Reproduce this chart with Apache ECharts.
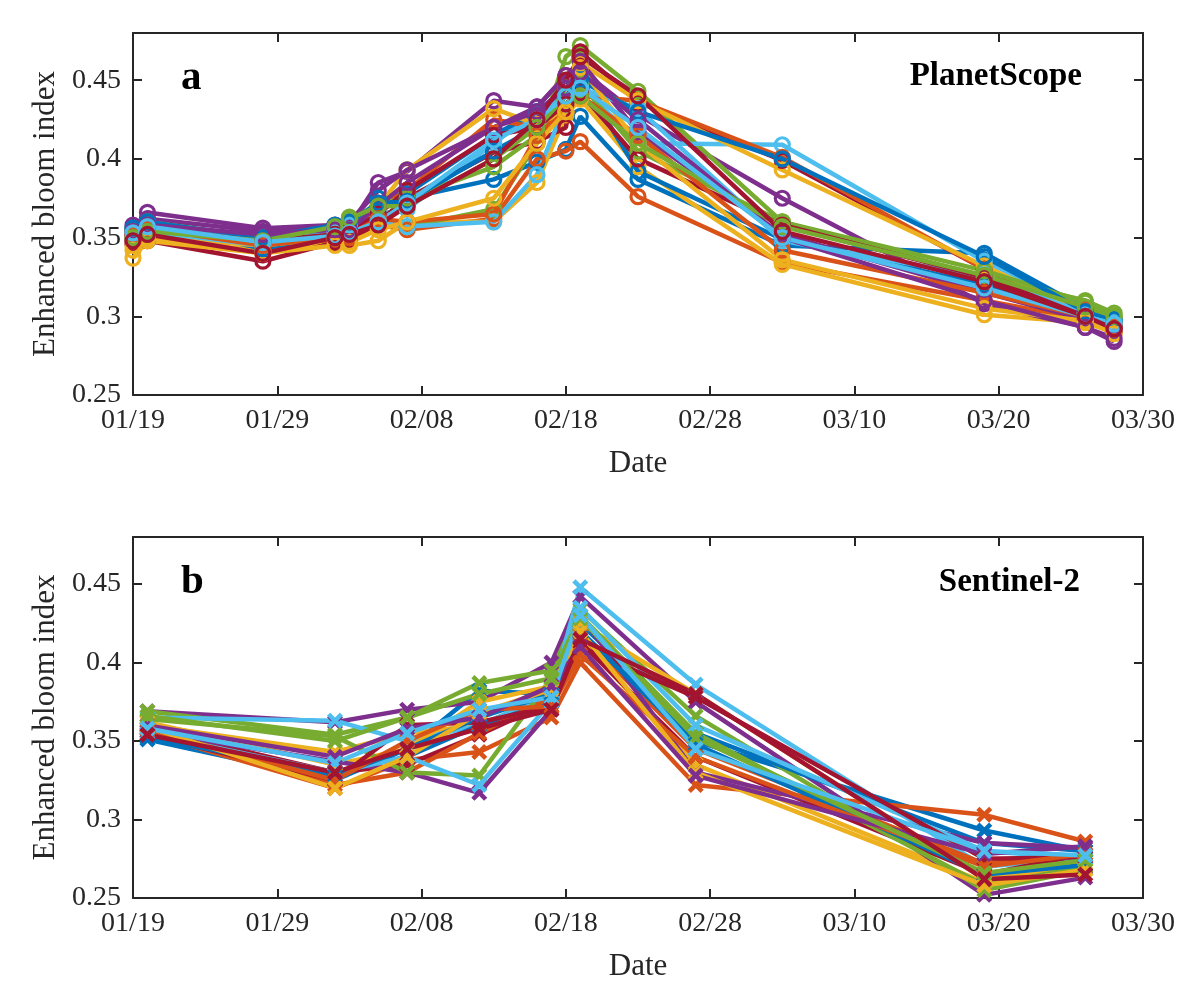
<!DOCTYPE html>
<html>
<head>
<meta charset="utf-8">
<script src="https://cdn.jsdelivr.net/npm/echarts@6/dist/echarts.min.js"></script>
<style>
html,body{margin:0;padding:0;background:#fff;}
#chart{width:1200px;height:999px;}
</style>
</head>
<body>
<div id="chart"></div>
<script>
// ---------- DATA ----------
const xTickLabels = ['01/19','01/29','02/08','02/18','02/28','03/10','03/20','03/30'];
const yTickLabels = [0.25, 0.3, 0.35, 0.4, 0.45];

const datesPS = ['01/19','01/20','01/28','02/02','02/03','02/05','02/07','02/13','02/16','02/18','02/19','02/23','03/05','03/19','03/26','03/28'];
const datesS2 = ['01/20','02/02','02/07','02/12','02/17','02/19','02/27','03/19','03/26'];

const ps01 = [0.352,0.356,0.345,0.352,0.356,0.370,0.375,0.387,0.398,0.406,0.427,0.387,0.345,0.340,0.305,0.296];
const ps02 = [0.350,0.352,0.340,0.348,0.350,0.358,0.355,0.362,0.400,0.405,0.411,0.376,0.334,0.310,0.298,0.292];
const ps03 = [0.337,0.348,0.342,0.346,0.345,0.348,0.360,0.360,0.385,0.428,0.438,0.395,0.333,0.301,0.296,0.290];
const ps04 = [0.356,0.366,0.356,0.358,0.357,0.385,0.392,0.437,0.433,0.453,0.457,0.428,0.375,0.308,0.293,0.284];
const ps05 = [0.348,0.352,0.346,0.355,0.363,0.360,0.357,0.368,0.410,0.465,0.472,0.443,0.360,0.325,0.310,0.302];
const ps06 = [0.355,0.358,0.350,0.353,0.355,0.365,0.368,0.410,0.430,0.440,0.447,0.410,0.409,0.335,0.305,0.297];
const ps07 = [0.346,0.348,0.335,0.347,0.348,0.360,0.375,0.404,0.411,0.420,0.468,0.436,0.399,0.330,0.302,0.294];
const ps08 = [0.354,0.358,0.343,0.350,0.352,0.375,0.378,0.415,0.430,0.445,0.452,0.392,0.349,0.320,0.302,0.295];
const ps09 = [0.353,0.357,0.347,0.352,0.350,0.370,0.380,0.425,0.420,0.430,0.440,0.437,0.401,0.330,0.305,0.296];
const ps10 = [0.345,0.350,0.345,0.350,0.352,0.370,0.393,0.432,0.422,0.430,0.461,0.437,0.393,0.332,0.302,0.292];
const ps11 = [0.358,0.362,0.354,0.356,0.360,0.380,0.393,0.420,0.433,0.453,0.462,0.417,0.352,0.315,0.298,0.290];
const ps12 = [0.355,0.360,0.350,0.357,0.360,0.372,0.375,0.395,0.415,0.445,0.448,0.405,0.360,0.329,0.309,0.300];
const ps13 = [0.350,0.354,0.345,0.356,0.358,0.360,0.357,0.360,0.390,0.435,0.445,0.432,0.348,0.325,0.302,0.297];
const ps14 = [0.352,0.356,0.348,0.352,0.354,0.365,0.380,0.415,0.420,0.435,0.442,0.400,0.358,0.325,0.300,0.293];
const ps15 = [0.356,0.360,0.350,0.358,0.360,0.372,0.373,0.405,0.420,0.440,0.450,0.430,0.400,0.338,0.303,0.298];
const ps16 = [0.352,0.356,0.345,0.350,0.352,0.362,0.360,0.365,0.415,0.430,0.440,0.415,0.342,0.315,0.300,0.294];
const ps17 = [0.342,0.348,0.340,0.345,0.347,0.355,0.360,0.375,0.410,0.430,0.458,0.410,0.336,0.305,0.297,0.289];
const ps18 = [0.354,0.358,0.352,0.355,0.355,0.370,0.385,0.420,0.430,0.445,0.455,0.425,0.350,0.310,0.293,0.286];
const ps19 = [0.350,0.354,0.348,0.357,0.362,0.370,0.370,0.400,0.420,0.440,0.440,0.410,0.357,0.326,0.306,0.300];
const ps20 = [0.353,0.357,0.347,0.351,0.353,0.360,0.372,0.412,0.425,0.440,0.445,0.420,0.350,0.318,0.300,0.295];
const ps21 = [0.348,0.352,0.340,0.350,0.352,0.358,0.370,0.400,0.425,0.450,0.465,0.440,0.354,0.322,0.300,0.292];

const s201 = [0.351,0.325,0.345,0.382,0.380,0.420,0.350,0.293,0.280];
const s202 = [0.355,0.320,0.338,0.343,0.365,0.400,0.322,0.303,0.286];
const s203 = [0.360,0.343,0.355,0.360,0.380,0.415,0.335,0.260,0.270];
const s204 = [0.369,0.362,0.370,0.375,0.400,0.442,0.375,0.252,0.263];
const s205 = [0.369,0.354,0.365,0.387,0.395,0.434,0.366,0.255,0.268];
const s206 = [0.365,0.363,0.350,0.360,0.380,0.448,0.386,0.270,0.275];
const s207 = [0.358,0.330,0.335,0.354,0.375,0.413,0.340,0.265,0.278];
const s208 = [0.352,0.330,0.340,0.360,0.375,0.425,0.355,0.285,0.280];
const s209 = [0.356,0.322,0.330,0.355,0.378,0.418,0.345,0.272,0.277];
const s210 = [0.362,0.335,0.345,0.375,0.385,0.425,0.380,0.262,0.272];
const s211 = [0.356,0.337,0.330,0.317,0.370,0.430,0.330,0.285,0.282];
const s212 = [0.364,0.353,0.330,0.328,0.390,0.430,0.355,0.258,0.270];
const s213 = [0.355,0.330,0.340,0.322,0.375,0.435,0.360,0.280,0.275];
const s214 = [0.354,0.325,0.360,0.362,0.372,0.410,0.378,0.275,0.276];
const s215 = [0.353,0.328,0.345,0.365,0.380,0.420,0.348,0.265,0.271];
const s216 = [0.357,0.325,0.350,0.370,0.372,0.405,0.340,0.270,0.278];
const s217 = [0.359,0.320,0.340,0.368,0.383,0.420,0.330,0.258,0.268];
const s218 = [0.360,0.340,0.358,0.365,0.385,0.410,0.328,0.278,0.283];
const s219 = [0.366,0.350,0.365,0.380,0.390,0.428,0.352,0.266,0.274];
const s220 = [0.358,0.336,0.355,0.370,0.378,0.430,0.345,0.280,0.277];
const s221 = [0.354,0.330,0.345,0.358,0.370,0.415,0.380,0.262,0.265];

const planetScope = [ps01,ps02,ps03,ps04,ps05,ps06,ps07,ps08,ps09,ps10,ps11,ps12,ps13,ps14,ps15,ps16,ps17,ps18,ps19,ps20,ps21];
const sentinel2 = [s201,s202,s203,s204,s205,s206,s207,s208,s209,s210,s211,s212,s213,s214,s215,s216,s217,s218,s219,s220,s221];

// ---------- STYLE ----------
const palette = ['#0072BD','#D95319','#EDB120','#7E2F8E','#77AC30','#4DBEEE','#A2142F'];
const axisColor = '#262626';
const serif = '"Liberation Serif","Times New Roman",serif';
const xMarker = 'path://M2,0 L5,3 L8,0 L10,2 L7,5 L10,8 L8,10 L5,7 L2,10 L0,8 L3,5 L0,2 Z';

function dayOf(s){
  const [m,d] = s.split('/').map(Number);
  return Math.round((Date.UTC(2021,m-1,d) - Date.UTC(2021,0,19)) / 86400000);
}

const chart = echarts.init(document.getElementById('chart'), null, {renderer:'canvas'});

function xAx(grid, pos){
  const main = pos === 'bottom';
  return {
    gridIndex: grid, type:'value', position: pos, min:0, max:70, interval:10,
    axisLine:{show:true, onZero:false, lineStyle:{color:axisColor, width:2}},
    axisTick:{show:true, inside:true, length:9, lineStyle:{color:axisColor, width:2}},
    axisLabel:{show:main, fontFamily:serif, fontSize:28, color:axisColor, margin:12,
      showMinLabel:true, showMaxLabel:true, hideOverlap:false,
      formatter: v => xTickLabels[Math.round(v/10)] || ''},
    splitLine:{show:false},
    name: main ? 'Date' : '', nameLocation:'middle', nameGap:53,
    nameTextStyle:{fontFamily:serif, fontSize:31, color:axisColor}
  };
}
function yAx(grid, pos){
  const main = pos === 'left';
  return {
    gridIndex: grid, type:'value', position: pos, min:0.25, max:0.48, interval:0.05,
    axisLine:{show:true, onZero:false, lineStyle:{color:axisColor, width:2}},
    axisTick:{show:true, inside:true, length:9, lineStyle:{color:axisColor, width:2}},
    axisLabel:{show:main, fontFamily:serif, fontSize:28, color:axisColor, margin:12,
      showMinLabel:true, showMaxLabel:true,
      formatter: v => { const t = yTickLabels.find(t => Math.abs(t - v) < 1e-9); return t === undefined ? '' : String(t); }},
    splitLine:{show:false},
    name: main ? 'Enhanced bloom index' : '', nameLocation:'middle', nameGap:72,
    nameTextStyle:{fontFamily:serif, fontSize:31, color:axisColor}
  };
}

const series = [];
planetScope.forEach((vals, i) => {
  const c = palette[i % 7];
  series.push({
    type:'line', xAxisIndex:0, yAxisIndex:0,
    data: datesPS.map((d, k) => [dayOf(d), vals[k]]),
    symbol:'circle', symbolSize:14, showAllSymbol:true,
    lineStyle:{color:c, width:4.5},
    itemStyle:{color:'rgba(255,255,255,0)', borderColor:c, borderWidth:3.2},
    emphasis:{disabled:true}, animation:false
  });
});
sentinel2.forEach((vals, i) => {
  const c = palette[i % 7];
  series.push({
    type:'line', xAxisIndex:2, yAxisIndex:2,
    data: datesS2.map((d, k) => [dayOf(d), vals[k]]),
    symbol: xMarker, symbolSize:16, showAllSymbol:true,
    lineStyle:{color:c, width:4.5},
    itemStyle:{color:c},
    emphasis:{disabled:true}, animation:false
  });
});

chart.setOption({
  animation:false,
  backgroundColor:'#ffffff',
  grid:[
    {left:133, top:33, width:1010, height:362, containLabel:false},
    {left:133, top:537, width:1010, height:361, containLabel:false}
  ],
  xAxis:[xAx(0,'bottom'), xAx(0,'top'), xAx(1,'bottom'), xAx(1,'top')],
  yAxis:[yAx(0,'left'), yAx(0,'right'), yAx(1,'left'), yAx(1,'right')],
  series: series,
  graphic:[
    {type:'text', left:181, top:58, z:100, style:{text:'a', font:'bold 41px ' + serif, fill:'#000'}},
    {type:'text', right:118, top:60, z:100, style:{text:'PlanetScope', font:'bold 33px ' + serif, fill:'#000'}},
    {type:'text', left:181, top:562, z:100, style:{text:'b', font:'bold 41px ' + serif, fill:'#000'}},
    {type:'text', right:120, top:566, z:100, style:{text:'Sentinel-2', font:'bold 33px ' + serif, fill:'#000'}}
  ]
});
</script>
</body>
</html>
